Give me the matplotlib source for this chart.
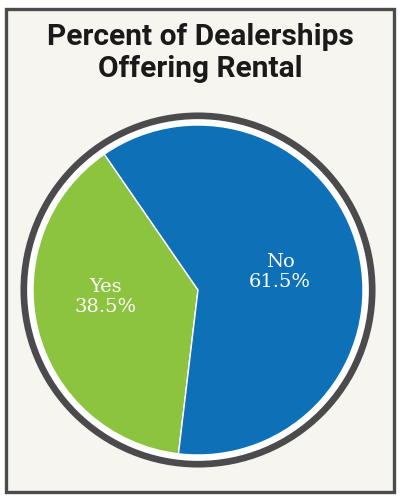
import matplotlib.pyplot as plt
from matplotlib.patches import Circle, Rectangle

categories = ["Yes", "No"]
shares = [38.5, 61.5]
colors = ["#8CC43F", "#0E71B8"]
title = "Percent of Dealerships\nOffering Rental"

BG = "#F6F5F0"
DARK = "#4B4B4E"

fig = plt.figure(figsize=(4, 5), dpi=100)
fig.patch.set_facecolor("white")
ax = fig.add_axes([0, 0, 1, 1])

# framed panel
ax.add_patch(Rectangle((5.5, 8.5), 388, 483, facecolor=BG, edgecolor=DARK,
                       linewidth=2.4, zorder=0))

cx, cy, r = 198, 210, 165

# dark ring with white gap around the pie
ax.add_patch(Circle((cx, cy), 174.2, facecolor="white", edgecolor=DARK,
                    linewidth=4.8, zorder=1))

wedges, _ = ax.pie(shares, colors=colors, center=(cx, cy), radius=r,
                   startangle=124.6, counterclock=True, frame=True,
                   wedgeprops=dict(edgecolor="white", linewidth=1.0))
for w in wedges:
    w.set_zorder(2)
ax.set_xlim(0, 400)
ax.set_ylim(0, 500)
ax.set_aspect("equal")
ax.axis("off")

label_pos = {"Yes": (106, 203), "No": (280, 228)}
for cat, val in zip(categories, shares):
    x, y = label_pos[cat]
    ax.text(x, y, f"{cat}\n{val}%", ha="center", va="center", color="white",
            fontsize=14, family=["DejaVu Serif"], linespacing=1.15, zorder=3)

ax.text(200, 447, title, ha="center", va="center", fontsize=21.5,
        fontweight="bold", fontstretch="condensed",
        family=["Roboto", "DejaVu Sans"],
        linespacing=1.22, color="#1A1A1A", zorder=3)

fig.savefig("out.png", dpi=100, facecolor=fig.get_facecolor())
